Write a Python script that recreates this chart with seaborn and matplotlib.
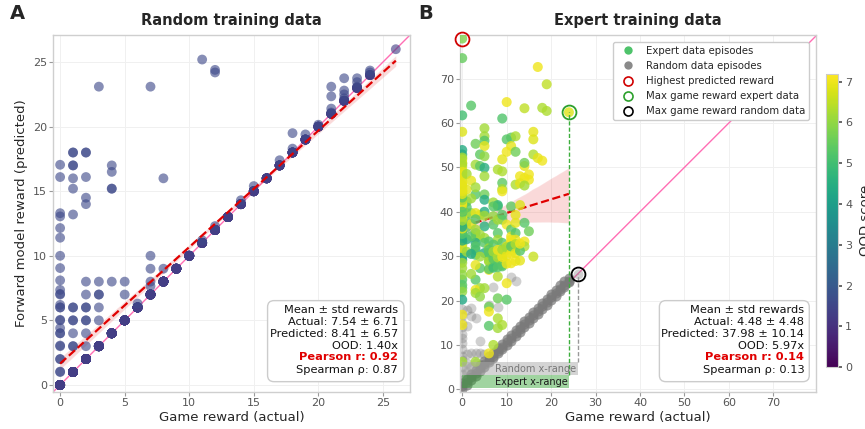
import numpy as np
import pandas as pd
import matplotlib
matplotlib.use("Agg")
import matplotlib.pyplot as plt
import seaborn as sns
from matplotlib.lines import Line2D
from matplotlib.colors import Normalize
from matplotlib.cm import ScalarMappable
from matplotlib.patches import FancyBboxPatch

sns.set_theme(style="whitegrid")
plt.rcParams["font.family"] = ["DejaVu Sans"]

# ---------------- Panel A: forward model trained on random episodes ----------------
a_diag_reward = [0, 1, 2, 3, 4, 5, 6, 7, 8, 9, 10, 11, 12, 13, 14, 15, 16, 17, 18, 19, 20, 21, 22, 23, 24, 26]
a_diag_count = [55, 48, 42, 40, 35, 32, 30, 28, 26, 24, 22, 20, 18, 16, 15, 14, 13, 12, 11, 10, 9, 8, 7, 6, 5, 1]

a_off_reward = [0] * 26 + [1] * 14 + [2] * 13 + [3] * 6 + [4] * 5 + [5] * 2 + [6] + [7] * 5 + [8] * 2 \
    + [11] * 2 + [12] * 3 + [14, 15, 17, 18, 18, 19, 20] + [21] * 4 + [22] * 4 + [23] * 3 + [24] * 2
a_off_pred = [17.05, 16.1, 13.3, 13.05, 12.15, 11.4, 10.0, 9.05, 8.1, 7.36, 7.05, 7.0, 6.2,
              6.0, 6.0, 5.04, 5.0, 4.4, 4.0, 4.0, 3.05, 3.0, 2.0, 2.0, 1.03, 1.0,
              18.0, 18.0, 17.0, 17.0, 16.0, 15.2, 13.2, 6.0, 6.0, 5.0, 5.0, 4.0, 3.0, 3.0,
              18.0, 18.0, 16.1, 14.5, 14.0, 8.0, 7.0, 6.0, 6.0, 5.0, 5.0, 4.0, 3.0,
              23.1, 8.0, 7.0, 7.0, 6.0, 5.0,
              17.0, 16.5, 15.2, 15.2, 8.0,
              8.0, 7.0,
              6.3,
              23.1, 10.0, 9.0, 8.0, 7.65,
              16.0, 9.0,
              25.2, 11.2,
              24.2, 24.4, 12.3,
              14.3, 15.4, 17.4, 19.5, 18.3, 19.4, 20.15,
              23.1, 22.35, 21.4, 21.1,
              23.75, 22.8, 22.5, 22.2,
              23.75, 23.45, 23.1,
              24.35, 24.2]
a_ood_diag = 1.3
a_ood_off = 1.6

a_stats = ["Mean \u00b1 std rewards", "Actual: 7.54 \u00b1 6.71", "Predicted: 8.41 \u00b1 6.57",
           "OOD: 1.40x", "Pearson r: 0.92", "Spearman \u03c1: 0.87"]

# ---------------- Panel B: forward model trained on expert episodes ----------------
b_exp_reward = [0, 0, 17, 19, 10, 2, 14, 18, 19, 24, 0, 9, 0, 5, 16, 16, 5, 5, 11, 12,
                10, 3, 5, 11, 10, 12, 0, 0, 4, 5, 0, 0, 0, 0, 3, 4, 5, 9, 8, 9,
                14, 14, 16, 17, 18, 13, 14, 15, 15, 12, 13, 14, 5, 0, 0, 0, 0, 0, 1, 3,
                5, 5, 9, 9, 9, 7, 8, 8, 11, 12, 1, 2, 4, 5, 7, 9, 13,
                0, 0, 3, 1, 5, 7, 5, 3, 3, 4, 5, 7, 8, 9, 10, 11, 12, 14, 15, 11, 12,
                0, 0, 0, 0, 0, 0, 3, 3, 3, 5, 5, 6, 6, 6, 7, 8, 8, 9, 9, 9, 9, 6, 7,
                3, 4, 6, 7, 11, 11, 12, 14, 14, 12, 10, 10, 16, 8, 9, 9, 6, 4, 8, 10,
                0, 0, 0, 0, 0, 3, 4, 3, 3, 4, 5, 6, 6, 10, 8, 8, 9, 6, 0, 0, 8, 7, 6, 0, 3,
                0, 0, 0, 0, 0, 0, 0, 0, 0, 0, 0, 0, 0, 0, 0, 0, 0, 0, 0, 0,
                1, 1, 1, 1, 1, 1, 2, 2, 2, 2, 2, 2, 3, 3, 3, 3,
                0, 0, 0, 0, 0, 0, 0, 0, 0, 0, 0, 0, 0, 0, 0, 0, 0, 0, 0, 0, 0, 0, 0,
                6, 6, 6, 7, 7, 7, 8, 8, 8, 9, 9, 9, 10, 10, 10, 11, 11, 11, 12, 12, 12, 13, 13, 13]
b_exp_pred = [79.0, 74.6, 72.6, 68.7, 64.7, 63.9, 63.3, 63.4, 62.7, 62.4, 61.7, 61.0, 58.0, 58.8,
              58.0, 56.3, 57.0, 56.0, 56.7, 57.0, 56.3, 55.3, 54.8, 54.8, 53.5, 53.5, 53.9, 52.9,
              52.9, 52.5, 51.8, 51.0, 50.3, 49.5, 50.6, 50.3, 49.9, 51.8, 49.5, 49.1, 50.3, 51.0,
              52.9, 52.1, 51.5, 48.0, 47.6, 48.4, 47.2, 46.1, 46.4, 45.9, 48.0, 47.6, 46.1, 45.7,
              44.6, 43.9, 42.3, 43.9, 43.9, 42.7, 46.5, 45.1, 44.6, 42.1, 41.2, 41.5, 41.2, 39.3,
              39.7, 39.7, 39.3, 40.0, 39.0, 38.2, 41.5,
              36.0, 35.2, 39.7, 37.8, 39.1, 41.2, 36.7, 35.2, 34.1, 34.8, 34.1, 37.1, 38.2, 39.3,
              37.1, 36.0, 37.5, 37.5, 35.6, 34.4, 35.2,
              33.3, 32.6, 31.1, 29.9, 29.2, 34.1, 33.0, 31.4, 32.2, 33.0, 30.7, 33.3, 31.8, 29.9,
              27.7, 35.2, 33.7, 31.4, 28.8, 27.7, 33.0, 31.4, 32.6,
              30.3, 29.9, 28.8, 28.4, 33.7, 33.0, 33.7, 33.3, 32.2, 31.8, 31.4, 32.2, 29.9, 30.7,
              29.9, 29.2, 26.9, 27.3, 25.4, 23.9,
              24.7, 23.5, 22.8, 22.0, 20.2, 24.7, 22.8, 22.4, 21.7, 20.9, 22.8, 18.6, 17.5, 20.2,
              20.5, 16.0, 14.5, 14.3, 16.8, 14.5, 13.8, 10.0, 8.1, 6.2, 6.2,
              27.3, 25.8, 38.5, 40.5, 42.0, 44.0, 46.8, 48.7, 52.2, 37.0, 34.6, 31.8, 28.5, 48.2,
              50.8, 45.2, 41.2, 39.0, 43.2, 49.0,
              36.5, 33.8, 31.0, 45.0, 48.5, 41.0, 37.2, 34.5, 30.5, 43.0, 47.0, 26.0,
              38.3, 36.0, 28.0, 45.5,
              33.5, 35.0, 36.2, 37.0, 37.8, 38.4, 39.0, 39.4, 39.8, 40.2, 40.6, 41.0, 41.5, 42.0,
              42.6, 43.2, 44.0, 45.0, 46.0, 36.6, 38.0, 40.0, 44.6,
              27.1, 29.0, 30.8, 27.4, 29.4, 31.0, 27.5, 29.7, 31.4, 28.0, 29.8, 31.5,
              28.3, 30.1, 32.0, 28.4, 30.6, 32.2, 28.9, 30.7, 32.7, 29.0, 31.2, 32.8]
b_exp_ood = [5.8, 5.5, 7.0, 6.5, 7.0, 5.3, 6.5, 6.3, 6.3, 6.8, 5.0, 5.2, 6.8, 6.2, 6.9, 6.8,
             6.2, 5.3, 5.4, 6.3, 5.3, 5.6, 6.9, 6.9, 7.0, 5.6, 4.4, 4.4, 5.4, 6.0, 6.9, 6.9,
             6.3, 6.9, 6.2, 5.4, 4.5, 6.9, 6.3, 6.3, 6.9, 5.6, 6.3, 6.9, 7.0, 7.0, 7.0, 7.0,
             7.0, 6.3, 6.9, 6.2, 6.2, 6.2, 6.9, 6.9, 5.5, 5.5, 5.6, 5.3, 5.6, 4.4, 5.4, 6.2,
             7.0, 6.2, 5.3, 4.8, 5.4, 6.9, 6.2, 6.0, 6.9, 4.4, 6.0, 5.4, 6.8,
             4.3, 4.3, 6.9, 5.3, 6.2, 5.3, 4.6, 5.3, 6.2, 6.2, 6.2, 5.3, 6.2, 5.3, 7.0, 5.3,
             6.9, 5.3, 5.6, 7.0, 5.3,
             6.9, 6.2, 5.3, 4.3, 4.3, 5.3, 4.4, 4.4, 5.3, 5.3, 4.4, 5.3, 6.2, 5.3, 4.9, 5.3,
             6.2, 5.3, 5.3, 5.3, 5.3, 5.3, 5.3,
             5.3, 6.2, 6.2, 5.3, 7.0, 7.0, 7.0, 7.0, 6.3, 6.3, 6.2, 7.0, 6.6, 7.0, 7.0, 7.0,
             7.0, 5.3, 6.4, 7.0,
             5.3, 5.3, 5.5, 6.0, 4.3, 5.3, 6.2, 7.0, 6.2, 6.0, 6.2, 5.6, 7.0, 5.3, 5.6, 6.3,
             6.3, 5.3, 7.0, 7.0, 6.2, 6.3, 7.0, 6.2, 6.2,
             6.2, 6.0, 6.9, 5.3, 6.9, 5.5, 7.0, 6.9, 6.2, 4.3, 5.3, 6.9, 6.2, 6.9,
             6.3, 7.0, 5.3, 6.2, 6.9, 6.9,
             5.3, 4.4, 6.2, 6.9, 6.2, 5.3, 6.9, 5.3, 4.4, 6.2, 6.9, 6.2,
             5.3, 6.2, 6.9, 6.2,
             4.4, 5.3, 6.9, 6.2, 5.3, 6.9, 7.0, 6.2, 5.3, 6.9, 6.2, 5.5, 6.9, 7.0,
             6.2, 5.3, 6.9, 7.0, 6.9, 4.3, 6.2, 5.3, 6.9,
             5.3, 6.2, 5.3, 4.9, 5.3, 6.2, 5.3, 6.3, 7.0, 5.3, 7.0, 6.2,
             7.0, 6.9, 6.2, 7.0, 7.0, 5.3, 7.0, 6.9, 6.3, 6.9, 5.3, 7.0]

b_rand_reward = [0, 1, 2, 3, 4, 5, 6, 7, 8, 9, 10, 11, 12, 13, 14, 15, 16, 17, 18, 19, 20, 21, 22, 23, 24,
                 0, 1, 2, 3, 4, 5, 6, 7, 8, 9, 10, 11, 12, 13, 14, 15, 16, 17, 18, 19, 20, 21, 22, 23, 24,
                 0, 1, 2, 3, 4, 5, 6, 7, 8, 9, 10, 11, 12, 13, 14, 15, 16, 17, 18, 19, 20, 21, 22, 23, 24,
                 26,
                 0, 0, 0, 0, 0, 0, 0, 0, 0, 0, 0, 0, 0, 1, 1, 1, 1, 1, 2, 2, 2, 2, 3, 3, 3,
                 4, 4, 5, 6, 7, 8, 11, 12]
b_rand_pred = [0.0, 1.0, 2.1, 3.0, 4.1, 5.0, 6.1, 7.0, 8.1, 9.0, 10.1, 11.0, 12.1, 13.0, 14.1, 15.0,
               16.1, 17.0, 18.1, 19.0, 20.1, 21.0, 22.1, 23.0, 24.1,
               0.7, 1.6, 2.7, 3.6, 4.7, 5.6, 6.7, 7.6, 8.7, 9.6, 10.7, 11.6, 12.7, 13.6, 14.7, 15.6,
               16.7, 17.6, 18.7, 19.6, 20.7, 21.6, 22.7, 23.6, 24.5,
               1.4, 2.3, 3.4, 4.3, 5.4, 6.3, 7.4, 8.3, 9.4, 10.3, 11.4, 12.3, 13.4, 14.3, 15.4, 16.3,
               17.4, 18.3, 19.4, 20.3, 21.4, 22.3, 23.4, 24.3, 25.0,
               26.0,
               2.0, 3.5, 5.0, 6.5, 7.5, 9.0, 10.5, 11.5, 12.5, 14.0, 15.0, 16.5, 18.0,
               4.0, 6.0, 8.0, 14.3, 17.9, 5.0, 8.1, 16.5, 18.3, 6.0, 8.1, 16.0,
               8.1, 11.0, 7.9, 19.0, 23.0, 18.5, 25.4, 24.4]
b_rand_count = [3] * 75 + [1] + [1] * 33

b_stats = ["Mean \u00b1 std rewards", "Actual: 4.48 \u00b1 4.48", "Predicted: 37.98 \u00b1 10.14",
           "OOD: 5.97x", "Pearson r: 0.14", "Spearman \u03c1: 0.13"]

ood_max = 7.19
norm = Normalize(0, ood_max)

# ---------------- data frames ----------------
df_a = pd.DataFrame({
    "actual": np.concatenate([np.repeat(a_diag_reward, a_diag_count), a_off_reward]).astype(float),
    "predicted": np.concatenate([np.repeat(a_diag_reward, a_diag_count), a_off_pred]).astype(float),
})
df_a["ood"] = [a_ood_diag] * int(np.sum(a_diag_count)) + [a_ood_off] * len(a_off_reward)

df_exp = pd.DataFrame({"actual": b_exp_reward, "predicted": b_exp_pred, "ood": b_exp_ood})
df_rand = pd.DataFrame({"actual": np.repeat(b_rand_reward, b_rand_count),
                        "predicted": np.repeat(b_rand_pred, b_rand_count)})

# ---------------- figure ----------------
fig = plt.figure(figsize=(8.65, 4.29), dpi=100)
ax_a = fig.add_axes([0.0613, 0.0862, 0.4127, 0.8322])
ax_b = fig.add_axes([0.5318, 0.0862, 0.4116, 0.8322])
cax = fig.add_axes([0.9549, 0.1445, 0.0139, 0.683])

pink = "#ff6eb4"
red = "#e00000"


def style_axes(ax):
    for sp in ax.spines.values():
        sp.set_color("#cfcfcf")
        sp.set_linewidth(1.0)
    ax.grid(True, color="#f0f0f0", linewidth=0.7)
    ax.tick_params(axis="both", which="major", length=3, width=0.8, color="#9a9a9a",
                   labelcolor="#555555", labelsize=8, pad=1.5, bottom=True, left=True)
    ax.set_axisbelow(True)


def stats_box(ax, lines, box):
    left, right = box
    ax.add_patch(FancyBboxPatch((left, 0.029), right - left, 0.227, transform=ax.transAxes,
                                boxstyle="round,pad=0,rounding_size=0.018", facecolor="white",
                                edgecolor="#cccccc", linewidth=1.0, zorder=6))
    rows = [0.229, 0.195, 0.163, 0.129, 0.098, 0.061]
    for i, (txt, yy) in enumerate(zip(lines, rows)):
        pearson = i == 4
        ax.text(0.967, yy, txt, transform=ax.transAxes, ha="right", va="center",
                fontsize=8.2, fontweight="bold" if pearson else "normal",
                color=red if pearson else "#111111", zorder=7)


# ---- Panel A ----
style_axes(ax_a)
ax_a.axline((0, 0), slope=1, color=pink, linewidth=1.0, zorder=1)
sns.scatterplot(data=df_a, x="actual", y="predicted", hue="ood", palette="viridis", hue_norm=norm,
                s=50, alpha=0.62, linewidth=0, legend=False, ax=ax_a, zorder=2)
sns.regplot(data=df_a, x="actual", y="predicted", scatter=False, ax=ax_a, color=red,
            line_kws=dict(linestyle="--", linewidth=1.6), ci=95)
ax_a.set_xlim(-0.55, 27.1)
ax_a.set_ylim(-0.55, 27.1)
ax_a.set_xticks(range(0, 26, 5))
ax_a.set_yticks(range(0, 26, 5))
ax_a.set_xlabel("Game reward (actual)", fontsize=9.5, labelpad=2)
ax_a.set_ylabel("Forward model reward (predicted)", fontsize=9.5, labelpad=3)
ax_a.set_title("Random training data", fontsize=10.5, fontweight="bold", pad=7)
stats_box(ax_a, a_stats, (0.601, 0.983))

# ---- Panel B ----
style_axes(ax_b)
ax_b.axline((0, 0), slope=1, color=pink, linewidth=1.0, zorder=1)
sns.scatterplot(data=df_rand, x="actual", y="predicted", color="#7a7a7a", s=50, alpha=0.35,
                linewidth=0, legend=False, ax=ax_b, zorder=2)
sns.scatterplot(data=df_exp, x="actual", y="predicted", hue="ood", palette="viridis", hue_norm=norm,
                s=52, alpha=0.8, linewidth=0, legend=False, ax=ax_b, zorder=3)
sns.regplot(data=df_exp, x="actual", y="predicted", scatter=False, ax=ax_b, color=red,
            line_kws=dict(linestyle="--", linewidth=1.6), ci=95)

# reward ranges of the two data sources
band_h = 2.9
exp_max = df_exp["actual"].max()
rand_max = df_rand["actual"].max()
ax_b.barh(0.3 + band_h / 2, exp_max, left=0, height=band_h, color="#2ca02c", alpha=0.45,
          linewidth=0, zorder=4)
ax_b.barh(0.3 + 1.5 * band_h, rand_max, left=0, height=band_h, color="#aaaaaa", alpha=0.5,
          linewidth=0, zorder=4)
ax_b.text(exp_max - 0.3, 0.3 + band_h / 2, "Expert x-range", ha="right", va="center",
          fontsize=7, color="#1a1a1a", zorder=5)
ax_b.text(rand_max - 0.3, 0.3 + 1.5 * band_h, "Random x-range", ha="right", va="center",
          fontsize=7, color="#777777", zorder=5)

# highlighted episodes
i_hi = df_exp["predicted"].idxmax()
i_exp = df_exp["actual"].idxmax()
i_rand = df_rand["actual"].idxmax()
ax_b.vlines(df_exp.loc[i_exp, "actual"], 0.3 + band_h, df_exp.loc[i_exp, "predicted"],
            colors="#3cae3c", linestyles=(0, (3, 1.5)), linewidth=1.0, zorder=4)
ax_b.vlines(df_rand.loc[i_rand, "actual"], 0.3 + 2 * band_h, df_rand.loc[i_rand, "predicted"],
            colors="#999999", linestyles=(0, (3, 1.5)), linewidth=1.0, zorder=4)
ax_b.plot(df_exp.loc[i_hi, "actual"], df_exp.loc[i_hi, "predicted"], "o", ms=10, mfc="none",
          mec="#d00000", mew=1.3, zorder=8, clip_on=False)
ax_b.plot(df_exp.loc[i_exp, "actual"], df_exp.loc[i_exp, "predicted"], "o", ms=10, mfc="none",
          mec="#2ca02c", mew=1.3, zorder=8)
ax_b.plot(df_rand.loc[i_rand, "actual"], df_rand.loc[i_rand, "predicted"], "o", ms=10, mfc="none",
          mec="black", mew=1.3, zorder=8)

ax_b.set_xlim(-0.5, 79.6)
ax_b.set_ylim(-0.6, 79.8)
ax_b.set_xticks(range(0, 71, 10))
ax_b.set_yticks(range(0, 71, 10))
ax_b.set_xlabel("Game reward (actual)", fontsize=9.5, labelpad=2)
ax_b.set_ylabel("")
ax_b.set_title("Expert training data", fontsize=10.5, fontweight="bold", pad=7)
stats_box(ax_b, b_stats, (0.560, 0.981))

handles = [
    Line2D([], [], marker="o", ls="", ms=6, mfc=plt.get_cmap("viridis")(0.72), mec="none"),
    Line2D([], [], marker="o", ls="", ms=6, mfc="#8a8a8a", mec="none"),
    Line2D([], [], marker="o", ls="", ms=6.5, mfc="none", mec="#d00000", mew=1.2),
    Line2D([], [], marker="o", ls="", ms=6.5, mfc="none", mec="#2ca02c", mew=1.2),
    Line2D([], [], marker="o", ls="", ms=6.5, mfc="none", mec="black", mew=1.2),
]
labels = ["Expert data episodes", "Random data episodes", "Highest predicted reward",
          "Max game reward expert data", "Max game reward random data"]
leg = ax_b.legend(handles, labels, loc="upper right", bbox_to_anchor=(0.995, 0.995), fontsize=7.3,
                  frameon=True, fancybox=True, framealpha=1, edgecolor="#cccccc",
                  labelspacing=0.5, handletextpad=0.8, borderpad=0.4)
leg.set_zorder(10)

# ---- colour bar ----
cb = fig.colorbar(ScalarMappable(norm=norm, cmap="viridis"), cax=cax)
cb.set_ticks(range(0, 8))
cb.ax.tick_params(labelsize=8, length=3, color="#555555", labelcolor="#555555", pad=2)
cb.outline.set_linewidth(0.8)
cb.set_label("OOD score", fontsize=9.5, labelpad=5)

fig.text(0.012, 0.99, "A", fontsize=14, fontweight="bold", va="top", ha="left")
fig.text(0.483, 0.99, "B", fontsize=14, fontweight="bold", va="top", ha="left")

fig.savefig("out.png", dpi=100)
